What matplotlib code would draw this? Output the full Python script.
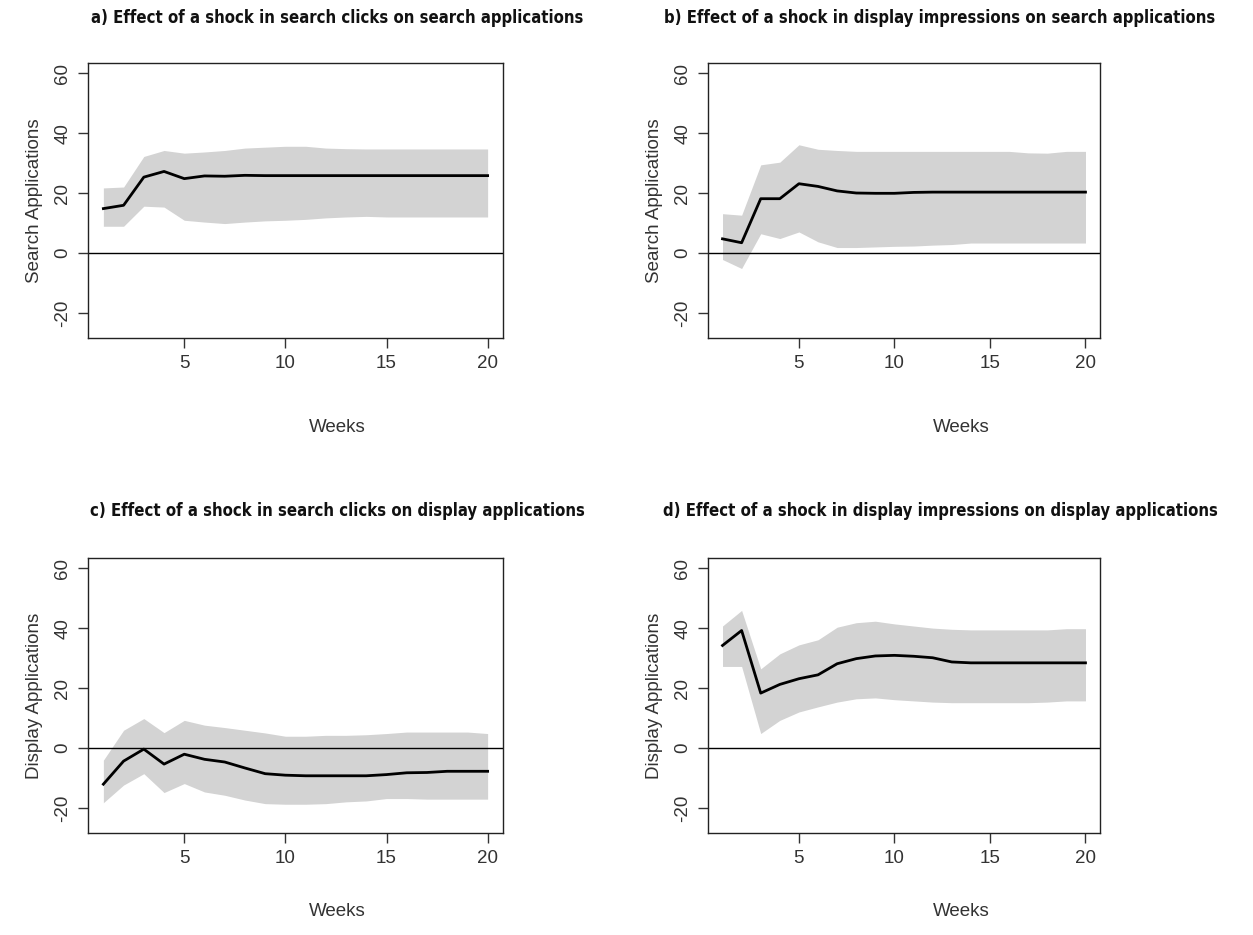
import matplotlib
matplotlib.use("Agg")
import matplotlib.pyplot as plt
import numpy as np

weeks = list(range(1, 21))

# a) search clicks -> search applications
a_mid = [14.8, 15.9, 25.3, 27.2, 24.8, 25.7, 25.6, 25.9, 25.8, 25.8, 25.8, 25.8, 25.8, 25.8, 25.8, 25.8, 25.8, 25.8, 25.8, 25.8]
a_up = [21.7, 22.0, 32.2, 34.2, 33.3, 33.7, 34.2, 35.0, 35.3, 35.6, 35.6, 35.0, 34.8, 34.7, 34.7, 34.7, 34.7, 34.7, 34.7, 34.7]
a_lo = [8.9, 8.9, 15.6, 15.3, 10.9, 10.3, 9.8, 10.3, 10.7, 10.9, 11.2, 11.7, 12.0, 12.2, 12.0, 12.0, 12.0, 12.0, 12.0, 12.0]

# b) display impressions -> search applications
b_mid = [4.7, 3.4, 18.1, 18.1, 23.1, 22.2, 20.7, 20.0, 19.9, 19.9, 20.2, 20.3, 20.3, 20.3, 20.3, 20.3, 20.3, 20.3, 20.3, 20.3]
b_up = [13.1, 12.6, 29.4, 30.3, 36.1, 34.6, 34.2, 33.9, 33.9, 33.9, 33.9, 33.9, 33.9, 33.9, 33.9, 33.9, 33.4, 33.3, 33.9, 33.9]
b_lo = [-2.2, -5.2, 6.4, 4.8, 7.0, 3.7, 1.8, 1.8, 2.0, 2.2, 2.3, 2.6, 2.8, 3.3, 3.3, 3.3, 3.3, 3.3, 3.3, 3.3]

# c) search clicks -> display applications
c_mid = [-12.1, -4.4, -0.4, -5.4, -2.1, -3.8, -4.7, -6.7, -8.6, -9.1, -9.3, -9.3, -9.3, -9.3, -8.9, -8.3, -8.2, -7.8, -7.8, -7.8]
c_up = [-4.1, 5.9, 9.8, 5.1, 9.2, 7.6, 6.8, 5.9, 5.0, 3.9, 3.9, 4.2, 4.2, 4.4, 4.8, 5.3, 5.3, 5.3, 5.3, 4.8]
c_lo = [-18.3, -12.4, -8.6, -14.9, -11.9, -14.7, -15.8, -17.4, -18.6, -18.8, -18.8, -18.6, -18.0, -17.7, -16.9, -16.9, -17.1, -17.1, -17.1, -17.1]

# d) display impressions -> display applications
d_mid = [34.2, 39.2, 18.3, 21.2, 23.1, 24.4, 28.1, 29.8, 30.7, 30.9, 30.6, 30.1, 28.7, 28.4, 28.4, 28.4, 28.4, 28.4, 28.4, 28.4]
d_up = [40.7, 45.9, 26.4, 31.4, 34.4, 36.1, 40.3, 41.8, 42.3, 41.4, 40.7, 40.0, 39.6, 39.4, 39.4, 39.4, 39.4, 39.4, 39.8, 39.8]
d_lo = [27.2, 27.2, 4.8, 9.2, 12.0, 13.7, 15.3, 16.4, 16.7, 16.1, 15.7, 15.3, 15.1, 15.1, 15.1, 15.1, 15.1, 15.3, 15.7, 15.7]

titles = [
    "a) Effect of a shock in search clicks on search applications",
    "b) Effect of a shock in display impressions on search applications",
    "c) Effect of a shock in search clicks on display applications",
    "d) Effect of a shock in display impressions on display applications",
]
ylabels = ["Search Applications", "Search Applications", "Display Applications", "Display Applications"]
xticks = [5, 10, 15, 20]
yticks = [-20, 0, 20, 40, 60]

W, H = 1253, 935
fig = plt.figure(figsize=(W / 100, H / 100), dpi=100)

# (left, top, right, bottom) in pixels
boxes = [(88, 63, 503, 338), (708, 63, 1100, 338), (88, 558, 503, 833), (708, 558, 1100, 833)]
title_pos = [(337, 18), (940, 18), (337, 511), (940, 511)]
xlab_pos = [(337, 427), (961, 427), (337, 912), (961, 912)]

series = [(a_mid, a_up, a_lo), (b_mid, b_up, b_lo), (c_mid, c_up, c_lo), (d_mid, d_up, d_lo)]
txt = "#333333"
tfont = "Liberation Sans"

for i, (box, (mid, up, lo)) in enumerate(zip(boxes, series)):
    l, t, r, b = box
    ax = fig.add_axes([l / W, 1 - b / H, (r - l) / W, (b - t) / H])
    ax.fill_between(weeks, lo, up, color="#d3d3d3", linewidth=0)
    ax.axhline(0, color="black", linewidth=1.0)
    ax.plot(weeks, mid, color="black", linewidth=2.0)
    ax.set_xlim(0.24, 20.76)
    ax.set_ylim(-28.4, 63.4)
    ax.set_xticks(xticks)
    ax.set_yticks(yticks)
    ax.set_xticklabels([str(v) for v in xticks], family=tfont)
    ax.set_yticklabels([str(v) for v in yticks], rotation=90, va="center", family=tfont)
    ax.tick_params(axis="both", length=7, width=1, color="#333333", labelsize=13.5, labelcolor=txt, pad=5)
    for s in ax.spines.values():
        s.set_linewidth(1.0)
        s.set_color("#222222")
    ax.set_ylabel(ylabels[i], fontsize=13.5, color=txt, labelpad=8, family=tfont)
    tx, ty = title_pos[i]
    fig.text(tx / W, 1 - ty / H, titles[i], ha="center", va="center", fontsize=12,
             fontweight="bold", family="DejaVu Sans", fontstretch="condensed", color="#111111")
    lx, ly = xlab_pos[i]
    fig.text(lx / W, 1 - ly / H, "Weeks", ha="center", va="center", fontsize=13.5, color=txt, family=tfont)

fig.savefig("out.png", dpi=100, facecolor="white")
